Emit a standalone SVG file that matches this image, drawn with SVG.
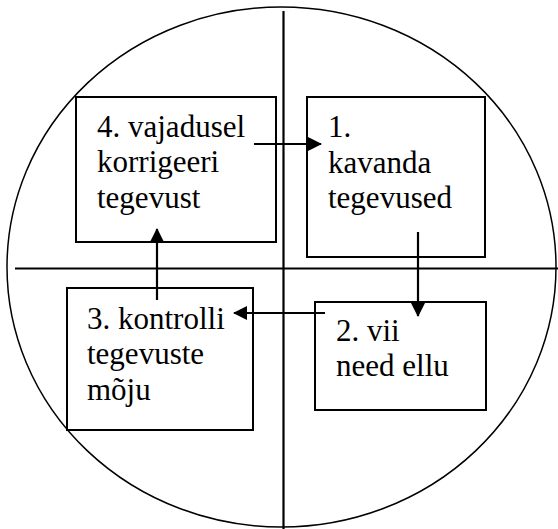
<svg xmlns="http://www.w3.org/2000/svg" width="558" height="529" viewBox="0 0 558 529">
<defs>
<style>
.box{fill:#fff;stroke:#000;stroke-width:2}
.ln{stroke:#000;stroke-width:2.2;fill:none}
.t{font-family:"Liberation Serif","Times New Roman",serif;font-size:31px;fill:#000}
</style>
<marker id="ah" markerWidth="14" markerHeight="14" refX="13" refY="7" orient="auto" markerUnits="userSpaceOnUse">
<path d="M0,0 L14,7 L0,14 Z" fill="#000"/>
</marker>
</defs>
<rect width="558" height="529" fill="#fff"/>
<g id="background">
<ellipse cx="281.5" cy="267" rx="274.5" ry="260" fill="none" stroke="#000" stroke-width="1.5"/>
<line class="ln" x1="283.5" y1="11" x2="283.5" y2="529"/>
<line class="ln" x1="15" y1="268.5" x2="558" y2="268.5"/>
</g>
<g id="node4">
<rect class="box" x="76" y="97" width="200" height="145"/>
<text class="t" x="97" y="137">4. vajadusel</text>
<text class="t" x="97" y="172">korrigeeri</text>
<text class="t" x="97" y="208">tegevust</text>
</g>
<g id="node1">
<rect class="box" x="307" y="97" width="178" height="160"/>
<text class="t" x="328" y="137">1.</text>
<text class="t" x="328" y="173">kavanda</text>
<text class="t" x="328" y="208">tegevused</text>
</g>
<g id="node3">
<rect class="box" x="67" y="288" width="186" height="142"/>
<text class="t" x="87" y="329">3. kontrolli</text>
<text class="t" x="87" y="364">tegevuste</text>
<text class="t" x="87" y="400">mõju</text>
</g>
<g id="node2">
<rect class="box" x="315" y="302" width="171" height="108"/>
<text class="t" x="336" y="341">2. vii</text>
<text class="t" x="336" y="376">need ellu</text>
</g>
<g id="connectors">
<line class="ln" x1="254" y1="144" x2="321" y2="144" marker-end="url(#ah)"/>
<line class="ln" x1="418" y1="232" x2="418" y2="316" marker-end="url(#ah)"/>
<line class="ln" x1="325" y1="313" x2="234" y2="313" marker-end="url(#ah)"/>
<line class="ln" x1="157" y1="300" x2="157" y2="229" marker-end="url(#ah)"/>
</g>
</svg>
